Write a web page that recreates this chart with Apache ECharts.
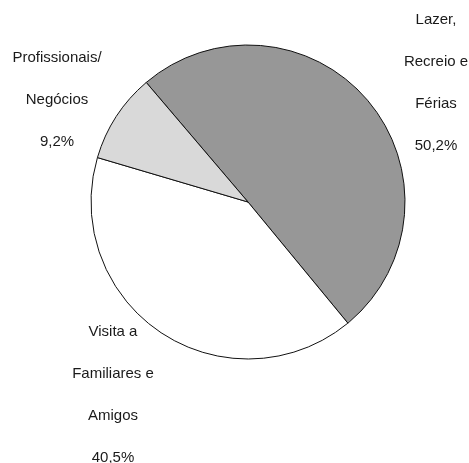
<!DOCTYPE html>
<html>
<head>
<meta charset="utf-8">
<script src="https://cdn.jsdelivr.net/npm/echarts@6/dist/echarts.min.js"></script>
<style>
  html, body { margin: 0; padding: 0; background: #fff; }
  #chart { width: 469px; height: 463px; }
</style>
</head>
<body>
<div id="chart"></div>
<script>
// categories (in clockwise order starting at the top-left boundary)
const categories = ['Lazer,\nRecreio e\nFérias', 'Visita a\nFamiliares e\nAmigos', 'Profissionais/\nNegócios'];
const values = [50.2, 40.5, 9.2];
const colors = ['#979797', '#ffffff', '#d9d9d9'];
// label block centres (text only)
const labelPos = [[436, 83], [113, 395], [57, 100]];

const chart = echarts.init(document.getElementById('chart'));

chart.setOption({
  animation: false,
  series: [{
    type: 'pie',
    center: [248, 202],
    radius: 157,
    startAngle: 130.4,
    clockwise: true,
    data: categories.map((name, i) => ({
      name: name,
      value: values[i],
      itemStyle: { color: colors[i] }
    })),
    itemStyle: {
      borderColor: '#111',
      borderWidth: 1
    },
    emphasis: { disabled: true },
    labelLine: { show: false },
    label: {
      show: true,
      position: 'outside',
      overflow: 'none',
      fontFamily: 'Liberation Sans, Arial, sans-serif',
      fontSize: 15,
      color: '#1a1a1a',
      lineHeight: 42,
      align: 'center',
      formatter: p => p.name + '\n' + p.value.toFixed(1).replace('.', ',') + '%'
    },
    labelLayout: p => ({
      x: labelPos[p.dataIndex][0],
      y: labelPos[p.dataIndex][1],
      align: 'center',
      verticalAlign: 'middle'
    })
  }]
});
</script>
</body>
</html>
